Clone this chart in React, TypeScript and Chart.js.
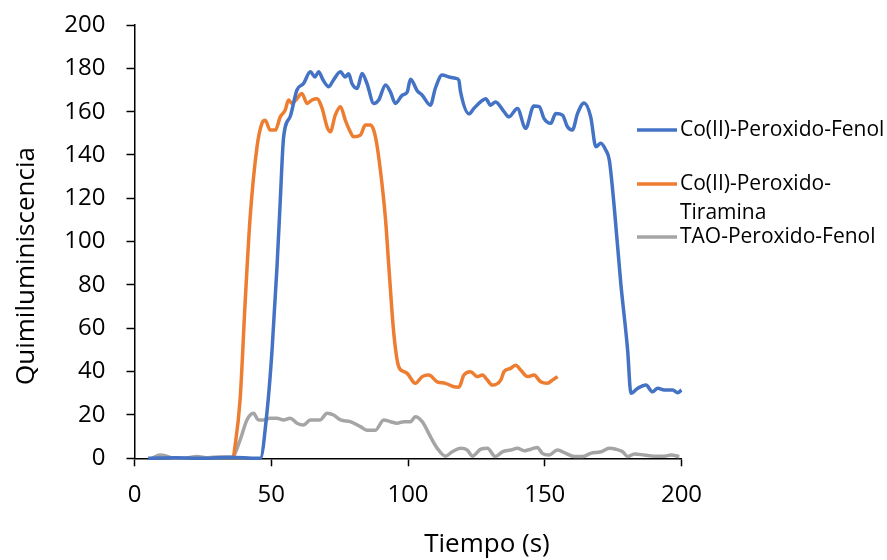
import React, { useEffect, useRef } from "react";
import { Chart, registerables } from "chart.js";

Chart.register(...registerables);

const FONT = "'Open Sans', 'DejaVu Sans', sans-serif";

const seriesNames = ["Co(II)-Peroxido-Fenol", "Co(II)-Peroxido-Tiramina", "TAO-Peroxido-Fenol"];
const legendLines = [["Co(II)-Peroxido-Fenol"], ["Co(II)-Peroxido-", "Tiramina"], ["TAO-Peroxido-Fenol"]];
const seriesColors = ["#4472C4", "#ED7D31", "#A5A5A5"];

const xTitle = "Tiempo (s)";
const yTitle = "Quimiluminiscencia";

const fenolX = [5, 15, 25, 35, 45, 46, 48.4, 50.3, 52.1, 53.3, 54.5, 57, 59.4, 61.8, 64.3, 66, 67.3, 69, 71, 72.7, 75.3, 77, 78.3, 79.5, 81.4, 83.2, 85, 87.5, 89.3, 91.8, 93.6, 95.4, 97.9, 99.7, 100.9, 103.4, 105.2, 108.2, 110, 112.5, 115, 117.4, 118.6, 119.2, 122.3, 124.1, 126.6, 128.4, 130.2, 132, 135.1, 136.9, 140, 143, 146, 148, 149.7, 152.2, 154, 156.5, 158.3, 160.1, 162, 164.4, 166.8, 168.7, 170.5, 172.3, 173.6, 175.4, 177.8, 180.3, 181.5, 184, 187, 189.4, 191.3, 193.7, 196.8, 198.6, 200];
const fenolY = [0, 0.3, 0, 0.5, 0, 0, 20.8, 50, 88.4, 119, 148, 158, 170, 173, 178.4, 176, 178.4, 174.5, 171.5, 174.5, 178.4, 176, 177.5, 173, 170.7, 177.6, 173, 163.8, 165.4, 172.3, 169, 163.8, 167.6, 169, 175, 169.6, 167.6, 163, 170.8, 176.9, 176, 175.4, 174.5, 169.2, 159, 161.5, 164.6, 166, 163, 164.5, 160, 157.6, 161.5, 152.3, 162.6, 162.3, 156.9, 154.6, 159.2, 158.4, 153, 151.5, 159.2, 164, 157.6, 143.8, 145.4, 142.3, 137.7, 116, 80.8, 50, 30, 32.3, 33.8, 30.7, 32.3, 31.5, 31.5, 30.3, 31.5];

const tiraminaX = [36.2, 38.6, 40.5, 42.3, 44.8, 46.6, 47.8, 49.6, 51.5, 53.3, 55.1, 56.3, 57.6, 59.4, 61.2, 63.1, 64.9, 66.7, 68.6, 70.4, 71.6, 73.4, 75.3, 77.1, 78.9, 80.1, 82.6, 84.4, 86.3, 88.1, 89.9, 91.8, 93, 94.8, 96.6, 98.5, 99.7, 102.7, 105.2, 107.6, 110.7, 113.7, 116.8, 118.6, 120.4, 122.9, 125.3, 127.2, 129, 130.8, 133.9, 135.1, 137.5, 139.4, 141.2, 143.7, 146.1, 148.5, 151, 152.8, 154.7];
const tiraminaY = [0, 27, 73, 111.5, 143.8, 154.6, 156, 151.5, 151.5, 157.6, 160.7, 165.4, 163.8, 166, 168.4, 163.8, 165.4, 166, 161.5, 153, 150.7, 158.4, 162.3, 156, 150.7, 148.4, 149.2, 153.8, 153.8, 148.4, 133, 110, 88.4, 57.7, 42.3, 40, 39.2, 34.6, 37.7, 38.4, 35.3, 34.6, 33, 32.8, 38.4, 40, 37.7, 38.4, 36.1, 33.8, 36.1, 40, 41.5, 43, 40.7, 37.7, 38.4, 35.3, 34.6, 36.1, 37.7];

const taoX = [6.3, 9.3, 11.8, 14.2, 18, 22.8, 27, 31, 35.6, 38.6, 41.1, 43.5, 45.3, 47.2, 49.6, 52.1, 54.5, 56.9, 59.4, 61.8, 64.3, 67.9, 70.4, 72.8, 75.3, 78.9, 82.6, 85, 88.1, 91.1, 93.6, 96, 98.5, 100.9, 102.7, 105.2, 108.2, 110.7, 113.7, 116.2, 119.2, 121.7, 123.5, 126.6, 129, 132, 134.5, 137.5, 140, 142.5, 144.9, 147.3, 149.1, 151.6, 154.6, 157.7, 160.7, 163.8, 166.8, 170.5, 173.6, 176, 178.5, 180.3, 182.8, 186.4, 190, 193.7, 196.2, 199.2];
const taoY = [0, 1.5, 1, 0, 0, 0.8, 0.3, 0.6, 0.5, 8.4, 17.7, 20.8, 17.7, 17.7, 18.5, 18.5, 17.7, 18.5, 16.2, 15.4, 17.7, 17.7, 20.8, 20, 17.7, 16.9, 14.6, 13, 13, 17.7, 16.9, 16.2, 16.9, 16.9, 19.2, 16.9, 10, 4.6, 1, 3, 4.6, 3.8, 1, 4.2, 4.6, 0.8, 3, 3.8, 4.6, 3.5, 4.2, 5, 2.3, 1.5, 3.8, 2.3, 0.8, 0.8, 2.3, 3, 4.6, 4.2, 3, 0.8, 2, 1.5, 1, 1, 1.5, 0.8];

const xTickStep = 50;
const yTickStep = 20;

const zip = (xs: number[], ys: number[]) => xs.map((x, i) => ({ x, y: ys[i] }));

const titlesAndLegend = {
  id: "titlesAndLegend",
  afterDraw(chart: any) {
    const ctx = chart.ctx;
    ctx.save();
    ctx.fillStyle = "#000";
    ctx.textBaseline = "middle";
    ctx.font = `26px ${FONT}`;
    ctx.textAlign = "center";
    ctx.fillText(xTitle, 487, 545);
    ctx.save();
    ctx.translate(27, 266);
    ctx.rotate(-Math.PI / 2);
    ctx.fillText(yTitle, 0, 0);
    ctx.restore();
    const ys = [130, 184, 237];
    ctx.font = `21px ${FONT}`;
    ctx.textAlign = "left";
    legendLines.forEach((lines, i) => {
      ctx.strokeStyle = seriesColors[i];
      ctx.lineWidth = 3.5;
      ctx.beginPath();
      ctx.moveTo(637, ys[i]);
      ctx.lineTo(677, ys[i]);
      ctx.stroke();
      lines.forEach((t, j) => {
        ctx.fillText(t, 680, ys[i] + j * 29);
      });
    });
    ctx.restore();
  },
};

export default function App() {
  const ref = useRef<HTMLCanvasElement>(null);
  useEffect(() => {
    if (!ref.current) return;
    const datasets = [
      { label: seriesNames[0], data: zip(fenolX, fenolY), borderColor: seriesColors[0] },
      { label: seriesNames[1], data: zip(tiraminaX, tiraminaY), borderColor: seriesColors[1] },
      { label: seriesNames[2], data: zip(taoX, taoY), borderColor: seriesColors[2] },
    ].map((d) => ({
      ...d,
      backgroundColor: d.borderColor,
      borderWidth: 3.5,
      pointRadius: 0,
      cubicInterpolationMode: "monotone",
      fill: false,
      clip: false as any,
    }));
    const axisCommon = {
      grid: { display: true, drawOnChartArea: false, drawTicks: true, tickLength: 8, color: "#000", tickWidth: 1.5 },
      border: { display: true, color: "#000", width: 1.5 },
    };
    const chart = new Chart(ref.current, {
      type: "line",
      data: { datasets },
      options: {
        animation: false,
        responsive: false,
        maintainAspectRatio: false,
        layout: { padding: { top: 25, right: 205.5, left: 0, bottom: 0 } },
        plugins: { legend: { display: false }, tooltip: { enabled: false }, title: { display: false } },
        scales: {
          x: {
            type: "linear",
            min: 0,
            max: 200,
            ...axisCommon,
            ticks: { stepSize: xTickStep, color: "#000", font: { family: FONT, size: 24 }, padding: 14, maxRotation: 0 },
            afterFit: (s: any) => { s.height = 101.7; s.paddingLeft = 0; s.paddingRight = 0; },
          },
          y: {
            type: "linear",
            min: 0,
            max: 200,
            ...axisCommon,
            ticks: { stepSize: yTickStep, color: "#000", font: { family: FONT, size: 24 }, padding: 21 },
            afterFit: (s: any) => { s.width = 134.5; s.paddingTop = 0; s.paddingBottom = 0; },
          },
        },
      } as any,
      plugins: [titlesAndLegend],
    });
    return () => chart.destroy();
  }, []);
  return (
    <div style={{ position: "fixed", left: 0, top: 0, width: 887, height: 560, background: "#fff" }}>
      <canvas ref={ref} width={887} height={560} />
    </div>
  );
}
